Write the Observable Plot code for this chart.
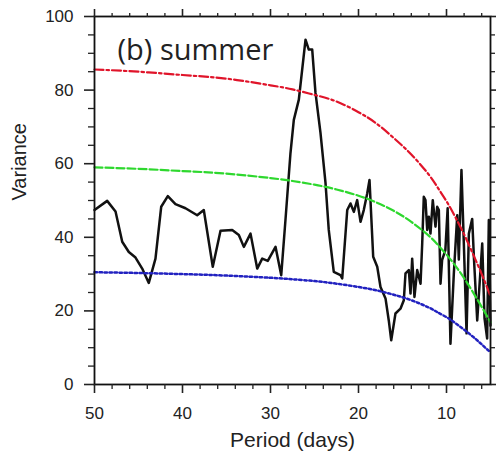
<!DOCTYPE html>
<html>
<head>
<meta charset="utf-8">
<script src="https://cdn.jsdelivr.net/npm/d3@7"></script>
<script src="https://cdn.jsdelivr.net/npm/@observablehq/plot@0.6"></script>
<style>
  html, body { margin: 0; padding: 0; background: #fff; }
  #chart svg { display: block; }
</style>
</head>
<body>
<div id="chart"></div>
<script>
// Spectrum (black line): period (days) and variance
const period = [50.0,48.56,47.61,46.85,46.10,45.34,44.58,43.83,43.07,42.42,41.67,40.80,39.66,38.33,37.58,36.56,35.68,34.35,33.60,33.03,32.27,31.51,30.94,30.31,29.43,28.78,28.30,27.73,27.35,26.78,26.02,25.65,25.26,24.89,24.32,23.75,23.38,22.81,22.05,21.85,21.28,20.91,20.53,20.15,19.77,19.40,19.01,18.75,18.33,17.87,17.50,16.93,16.56,16.28,15.80,15.23,14.85,14.66,14.28,14.09,13.90,13.64,13.33,12.95,12.76,12.58,12.39,12.19,12.01,11.82,11.56,11.25,11.06,10.87,10.68,10.50,10.13,9.87,9.55,9.17,8.78,8.60,8.30,8.03,7.72,7.46,7.08,6.89,6.51,5.94,5.68,5.38,5.19,5.00];
const variance = [47.4,49.9,47.0,38.8,36.0,34.5,31.5,27.6,34.2,48.3,51.2,49.0,47.9,46.0,47.4,32.0,41.8,42.0,40.6,37.4,41.0,31.5,34.2,33.6,37.4,29.7,44.7,62.9,71.9,77.4,93.7,91.0,91.0,79.3,68.4,54.8,42.0,30.6,29.7,28.8,47.4,49.2,46.9,50.1,44.2,47.4,51.9,55.6,34.7,32.0,26.5,23.4,17.4,12.0,19.3,20.6,22.9,30.2,31.1,24.7,34.2,23.8,31.1,27.4,38.3,51.0,50.1,42.0,45.6,41.0,50.1,42.9,48.3,47.4,27.4,33.8,36.5,47.9,11.1,30.0,46.0,34.0,58.3,38.3,13.9,41.0,45.0,34.7,17.4,38.3,18.0,12.5,44.7,16.0];

// Reference curves
const curvePeriod = [50,45,40,35,30,27.5,25,22.5,20,18,16,14,12,11,10,9,8,7,6,5];
const redCurve   = [85.6,85.0,84.1,83.1,81.3,80.2,78.7,76.9,74.0,71.0,67.0,62.5,57.0,53.5,49.8,45.5,40.8,35.5,30.0,24.0];
const greenCurve = [59.0,58.6,58.0,57.3,56.1,55.3,54.3,53.0,51.3,49.5,47.2,44.2,40.4,38.0,35.3,32.3,28.9,25.1,21.1,16.9];
const blueCurve  = [30.5,30.3,30.0,29.6,29.0,28.6,28.1,27.4,26.5,25.6,24.4,22.9,20.9,19.6,18.3,16.7,14.9,13.0,10.9,8.7];

// Ticks and labels
const periodTicks = [50,40,30,20,10];
const varianceTicks = [0,20,40,60,80,100];
const panelTitle = "(b) summer";
const xLabel = "Period (days)";
const yLabel = "Variance";

const spectrum = period.map((p, i) => ({p, v: variance[i]}));
const curves = (vals) => curvePeriod.map((p, i) => ({p, v: vals[i]}));
const minorX = d3.range(6, 50, 2).filter(d => d % 10 !== 0);
const minorY = d3.range(5, 100, 5).filter(d => d % 20 !== 0);
const blank = () => "";

const chart = Plot.plot({
  width: 496,
  height: 452,
  marginLeft: 94,
  marginRight: 6,
  marginTop: 16,
  marginBottom: 68,
  style: {fontFamily: "'Liberation Sans', Arial, Helvetica, sans-serif", color: "#222", background: "#fff"},
  x: {domain: [50, 5], label: null},
  y: {domain: [0, 100], label: null},
  marks: [
    Plot.line(spectrum, {x: "p", y: "v", stroke: "#111", strokeWidth: 2.5, strokeLinejoin: "round"}),
    Plot.line(curves(redCurve), {x: "p", y: "v", stroke: "#e0142a", strokeWidth: 2.2, strokeDasharray: "9,3,2.5,3", curve: "natural"}),
    Plot.line(curves(greenCurve), {x: "p", y: "v", stroke: "#2ed82e", strokeWidth: 2.2, strokeDasharray: "8,3", curve: "natural"}),
    Plot.line(curves(blueCurve), {x: "p", y: "v", stroke: "#2222c0", strokeWidth: 2.5, strokeDasharray: "2.5,2.5", curve: "natural"}),
    Plot.frame({stroke: "#111", strokeWidth: 1.8}),
    Plot.axisX(periodTicks, {anchor: "bottom", tickSize: 9, tickPadding: 13, fontSize: 17, strokeWidth: 1.6, label: null}),
    Plot.axisX(minorX, {anchor: "bottom", tickSize: 5, tickFormat: blank, strokeWidth: 1.3, label: null}),
    Plot.axisX(periodTicks, {anchor: "top", tickSize: 8, tickFormat: blank, strokeWidth: 1.6, label: null}),
    Plot.axisX(minorX, {anchor: "top", tickSize: 4, tickFormat: blank, strokeWidth: 1.3, label: null}),
    Plot.axisY(varianceTicks, {anchor: "left", tickSize: 10, tickPadding: 11, fontSize: 17, strokeWidth: 1.6, label: null}),
    Plot.axisY(minorY, {anchor: "left", tickSize: 6, tickFormat: blank, strokeWidth: 1.3, label: null}),
    Plot.axisY(varianceTicks, {anchor: "right", tickSize: 6, tickFormat: blank, strokeWidth: 1.6, label: null}),
    Plot.axisY(minorY, {anchor: "right", tickSize: 4, tickFormat: blank, strokeWidth: 1.3, label: null}),
    Plot.text([xLabel], {frameAnchor: "bottom", dy: 56, lineAnchor: "middle", fontSize: 21, fill: "#222"}),
    Plot.text([yLabel], {frameAnchor: "left", dx: -75, rotate: -90, lineAnchor: "middle", fontSize: 20, fill: "#222"}),
    Plot.text([panelTitle], {frameAnchor: "top-left", dx: 23, dy: 34, lineAnchor: "middle", textAnchor: "start", fontSize: 29, fontFamily: "'Open Sans', 'Noto Sans', sans-serif", letterSpacing: 2, fill: "#222"})
  ]
});
document.getElementById("chart").appendChild(chart);
</script>
</body>
</html>
